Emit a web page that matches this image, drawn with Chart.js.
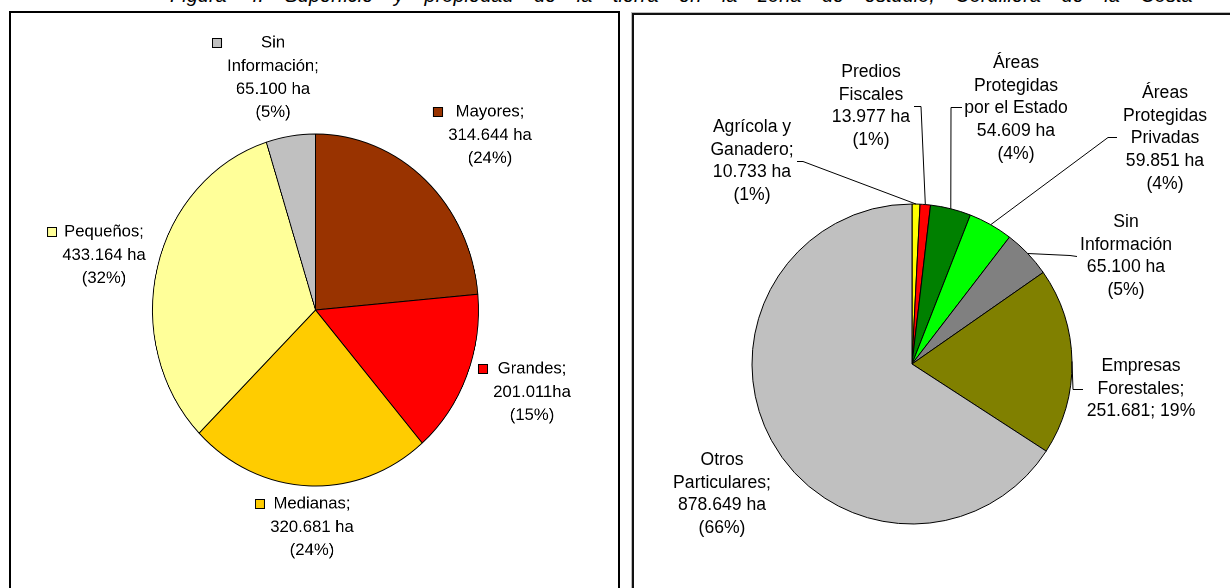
<!DOCTYPE html>
<html>
<head>
<meta charset="utf-8">
<script src="https://cdn.jsdelivr.net/npm/chart.js@4/dist/chart.umd.min.js"></script>
<style>
  html, body { margin: 0; padding: 0; background: #fff; }
  body { width: 1230px; height: 588px; position: relative; overflow: hidden; font-family: "Liberation Sans", Arial, sans-serif; }
  .title { position: absolute; left: 170px; top: -15px; font-size: 20px; line-height: 20px; font-style: italic; white-space: nowrap; color: #000; word-spacing: 15px; }
  .panel { position: absolute; box-sizing: border-box; border: 2px solid #000; border-bottom: none; }
  #panelLeft { left: 9px; top: 11px; width: 611px; height: 600px; }
  #panelRight { left: 632px; top: 13px; width: 620px; height: 600px; border-color: #111; box-shadow: 0 0 0 1px #bbb; }
  canvas { position: absolute; }
  #ownerChart { left: 11px; top: 13px; transform: scaleX(0.926); transform-origin: 304.5px 0; }
  #tenureChart { left: 634px; top: 15px; }
</style>
</head>
<body>
<div class="title">Figura 4. Superficie y propiedad de la tierra en la zona de estudio, Cordillera de la Costa</div>
<div class="panel" id="panelLeft"></div>
<div class="panel" id="panelRight"></div>
<canvas id="ownerChart" width="606" height="575"></canvas>
<canvas id="tenureChart" width="596" height="573"></canvas>

<script>
// left pie: property size classes (ha)
const ownerCategories = ["Mayores", "Grandes", "Medianas", "Pequeños", "Sin Información"]
const ownerValues = [314644, 201011, 320681, 433164, 65100]
const ownerColors = ["#993300", "#ff0000", "#ffcc00", "#ffff99", "#c0c0c0"]
const ownerLabelText = [
  ["Mayores;", "314.644 ha", "(24%)"],
  ["Grandes;", "201.011ha", "(15%)"],
  ["Medianas;", "320.681 ha", "(24%)"],
  ["Pequeños;", "433.164 ha", "(32%)"],
  ["Sin", "Información;", "65.100 ha", "(5%)"]
]

// right pie: land tenure (ha)
const tenureCategories = [
  "Agrícola y Ganadero",
  "Predios Fiscales",
  "Áreas Protegidas por el Estado",
  "Áreas Protegidas Privadas",
  "Sin Información",
  "Empresas Forestales",
  "Otros Particulares"
]
const tenureValues = [10733, 13977, 54609, 59851, 65100, 251681, 878649]
const tenureColors = ["#ffff00", "#ff0000", "#008000", "#00ff00", "#808080", "#808000", "#c0c0c0"]
const tenureLabelText = [
  ["Agrícola y", "Ganadero;", "10.733 ha", "(1%)"],
  ["Predios", "Fiscales", "13.977 ha", "(1%)"],
  ["Áreas", "Protegidas", "por el Estado", "54.609 ha", "(4%)"],
  ["Áreas", "Protegidas", "Privadas", "59.851 ha", "(4%)"],
  ["Sin", "Información", "65.100 ha", "(5%)"],
  ["Empresas", "Forestales;", "251.681; 19%"],
  ["Otros", "Particulares;", "878.649 ha", "(66%)"]
]

// label placement, page coordinates: [centre x, first line y]
const ownerLabelPos = [[490, 112], [532, 369], [312, 504], [104, 232], [273, 43]]
const tenureLabelPos = [[752, 127], [871, 72], [1016, 63], [1165, 93], [1126, 222], [1141, 366], [722, 460]]
// leader lines: start point and elbow (page coords), null = no leader
const tenureLeaders = [
  [[797, 161], [803, 161]],
  [[914, 106], [921, 106]],
  [[962, 107], [951, 107]],
  [[1117, 137], [1108, 137]],
  [[1077, 256], [1070, 255]],
  [[1083, 389], [1073, 389]],
  null
]

const FONT = '"Liberation Sans", Arial, sans-serif'

const pieLabels = {
  id: "pieLabels",
  afterDraw(chart, args, opts) {
    const ctx = chart.ctx
    const meta = chart.getDatasetMeta(0)
    const colors = chart.data.datasets[0].backgroundColor

    ctx.save()
    if (opts.squeeze) {
      ctx.translate(opts.originX, 0)
      ctx.scale(1 / opts.squeeze, 1)
      ctx.translate(-opts.originX, 0)
    }
    ctx.translate(-opts.pageLeft, -opts.pageTop)

    // leader lines
    if (opts.leaders) {
      ctx.strokeStyle = "#000"
      ctx.lineWidth = 1
      opts.leaders.forEach((leader, i) => {
        if (!leader) return
        const arc = meta.data[i]
        const mid = (arc.startAngle + arc.endAngle) / 2
        const ex = arc.x + arc.outerRadius * Math.cos(mid) + opts.pageLeft
        const ey = arc.y + arc.outerRadius * Math.sin(mid) + opts.pageTop
        ctx.beginPath()
        ctx.moveTo(leader[0][0], leader[0][1] + 0.5)
        ctx.lineTo(leader[1][0], leader[1][1] + 0.5)
        ctx.lineTo(ex, ey)
        ctx.stroke()
      })
    }

    ctx.font = `${opts.fontSize}px ${FONT}`
    ctx.fillStyle = "#000"
    ctx.textAlign = "center"
    ctx.textBaseline = "middle"

    opts.text.forEach((lines, i) => {
      const [cx, y1] = opts.positions[i]
      lines.forEach((line, k) => {
        ctx.fillText(line, cx, y1 + k * opts.lineHeight)
      })
      if (opts.keys) {
        const maxW = Math.max(...lines.map(l => ctx.measureText(l).width))
        const kx = Math.round(cx - maxW / 2) - 15
        const ky = Math.round(y1) - 5
        ctx.fillStyle = colors[i]
        ctx.fillRect(kx, ky, 10, 10)
        ctx.strokeStyle = "#000"
        ctx.lineWidth = 1
        ctx.strokeRect(kx + 0.5, ky + 0.5, 9, 9)
        ctx.fillStyle = "#000"
      }
    })
    ctx.restore()
  }
}

function makePie(canvasId, categories, values, colors, radius, padding, labelOpts, dpr) {
  return new Chart(document.getElementById(canvasId), {
    type: "pie",
    data: {
      labels: categories,
      datasets: [
        {
          data: values,
          backgroundColor: colors,
          borderColor: "#000",
          borderWidth: 1,
          radius: radius
        }
      ]
    },
    options: {
      responsive: false,
      animation: false,
      devicePixelRatio: dpr,
      layout: { padding },
      plugins: {
        legend: { display: false },
        tooltip: { enabled: false },
        pieLabels: labelOpts
      }
    },
    plugins: [pieLabels]
  })
}

makePie(
  "ownerChart",
  ownerCategories,
  ownerValues,
  ownerColors,
  176,
  { left: 128.5, right: 125.5, top: 121, bottom: 102 },
  {
    text: ownerLabelText,
    positions: ownerLabelPos,
    keys: true,
    fontSize: 16.7,
    lineHeight: 23.2,
    pageLeft: 11,
    pageTop: 13,
    squeeze: 0.926,
    originX: 304.5
  },
  2
)

makePie(
  "tenureChart",
  tenureCategories,
  tenureValues,
  tenureColors,
  160,
  { left: 118, right: 158, top: 189, bottom: 64 },
  {
    text: tenureLabelText,
    positions: tenureLabelPos,
    leaders: tenureLeaders,
    fontSize: 17.6,
    lineHeight: 22.8,
    pageLeft: 634,
    pageTop: 15
  },
  1
)
</script>
</body>
</html>
